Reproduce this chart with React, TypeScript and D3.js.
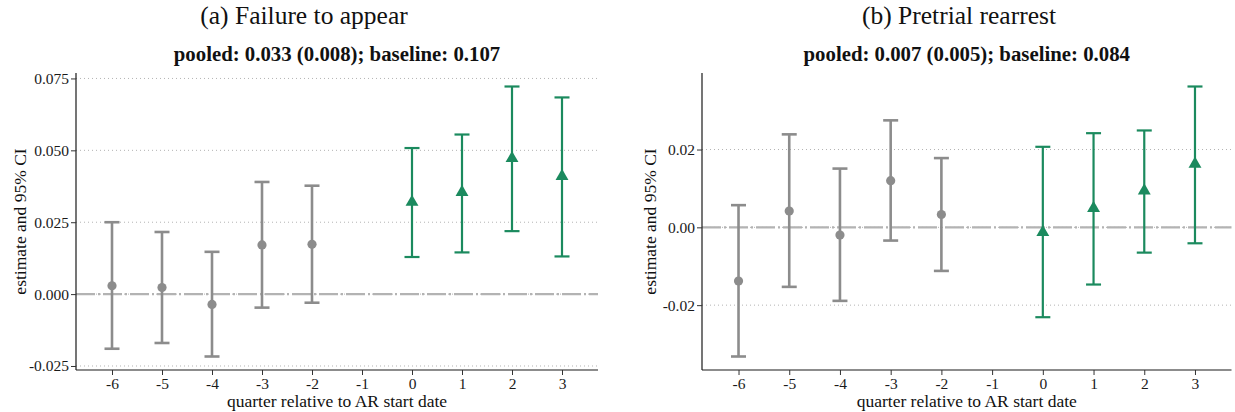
import { useEffect, useRef } from 'react';
import * as d3 from 'd3';

// quarters relative to AR start date
const quarters = [-6, -5, -4, -3, -2, 0, 1, 2, 3];
const xTicks = [-6, -5, -4, -3, -2, -1, 0, 1, 2, 3];

// (a) failure to appear
const ftaEst = [0.0029, 0.0023, -0.0036, 0.0171, 0.0173, 0.032, 0.0354, 0.0472, 0.041];
const ftaLo = [-0.019, -0.017, -0.0217, -0.0047, -0.003, 0.0129, 0.0145, 0.0219, 0.0131];
const ftaHi = [0.025, 0.0216, 0.0147, 0.039, 0.0377, 0.0508, 0.0555, 0.0722, 0.0684];
const ftaTicks = [-0.025, 0, 0.025, 0.05, 0.075];
const ftaTickLabels = ['-0.025', '0.000', '0.025', '0.050', '0.075'];

// (b) pretrial rearrest
const rearEst = [-0.0138, 0.0042, -0.002, 0.012, 0.0033, -0.0013, 0.0049, 0.0094, 0.0163];
const rearLo = [-0.0332, -0.0153, -0.0189, -0.0034, -0.0112, -0.0231, -0.0147, -0.0065, -0.0041];
const rearHi = [0.0057, 0.0239, 0.0151, 0.0275, 0.0178, 0.0207, 0.0242, 0.0249, 0.0362];
const rearTicks = [-0.02, 0, 0.02];
const rearTickLabels = ['-0.02', '0.00', '0.02'];

const FONT = '"Liberation Serif", serif';
const GREY = '#8c8c8c';
const GREEN = '#1b8a5e';

const panels = [
  {
    title: '(a) Failure to appear', titleX: 304,
    subtitle: 'pooled: 0.033 (0.008); baseline: 0.107',
    est: ftaEst, lo: ftaLo, hi: ftaHi, ticks: ftaTicks, tickLabels: ftaTickLabels,
    left: 76, right: 598, ylabX: 20,
  },
  {
    title: '(b) Pretrial rearrest', titleX: 959,
    subtitle: 'pooled: 0.007 (0.005); baseline: 0.084',
    est: rearEst, lo: rearLo, hi: rearHi, ticks: rearTicks, tickLabels: rearTickLabels,
    left: 702, right: 1231.5, ylabX: 650,
  },
];

const App = () => {
  const ref = useRef(null);

  useEffect(() => {
    document.body.style.margin = '0';
    d3.select(ref.current).selectAll('svg').remove();

    const svg = d3.select(ref.current)
      .append('svg')
      .attr('width', 1235)
      .attr('height', 412)
      .style('display', 'block')
      .style('font-family', FONT);

    const top = 73, bottom = 370;

    panels.forEach(p => {
      const g = svg.append('g');

      const x = d3.scaleLinear().domain([-6.72, 3.72]).range([p.left, p.right]);
      const ymin = d3.min(p.lo), ymax = d3.max(p.hi);
      const pad = (ymax - ymin) * 0.05;
      const y = d3.scaleLinear().domain([ymin - pad, ymax + pad]).range([bottom, top]);

      // titles
      g.append('text')
        .attr('x', p.titleX).attr('y', 24)
        .attr('text-anchor', 'middle')
        .style('font-size', '25.5px')
        .attr('fill', '#111')
        .text(p.title);
      g.append('text')
        .attr('x', (p.left + p.right) / 2).attr('y', 61)
        .attr('text-anchor', 'middle')
        .style('font-size', '20.8px')
        .style('font-weight', 'bold')
        .attr('fill', '#111')
        .text(p.subtitle);

      // gridlines
      g.selectAll('.grid')
        .data(p.ticks)
        .join('line')
        .attr('x1', p.left).attr('x2', p.right)
        .attr('y1', d => y(d)).attr('y2', d => y(d))
        .attr('stroke', '#b3b3b3')
        .attr('stroke-width', 1)
        .attr('stroke-dasharray', '1,3');

      // zero reference line
      g.append('line')
        .attr('x1', p.left).attr('x2', p.right)
        .attr('y1', y(0)).attr('y2', y(0))
        .attr('stroke', '#b3b3b3')
        .attr('stroke-width', 2.4)
        .attr('stroke-dasharray', '19,3,2,3');

      // axes
      const yAxis = g.append('g')
        .attr('transform', `translate(${p.left},0)`)
        .call(d3.axisLeft(y).tickValues(p.ticks)
          .tickFormat((d, i) => p.tickLabels[i]).tickSize(5).tickPadding(2).tickSizeOuter(0));
      const xAxis = g.append('g')
        .attr('transform', `translate(0,${bottom})`)
        .call(d3.axisBottom(x).tickValues(xTicks)
          .tickFormat(d => String(d)).tickSize(5).tickPadding(3).tickSizeOuter(0));
      [yAxis, xAxis].forEach(a => {
        a.selectAll('text').style('font-size', '15.5px').style('font-family', FONT).attr('fill', '#1a1a1a');
        a.selectAll('line').attr('stroke', '#333');
        a.select('.domain').attr('stroke', '#1a1a1a').attr('stroke-width', 1.2);
      });
      xAxis.select('.domain').attr('d', `M${p.left},0H${p.right}`);
      yAxis.select('.domain').attr('d', `M0,${top}V${bottom}`);

      // axis titles
      g.append('text')
        .attr('x', (p.left + p.right) / 2).attr('y', 407)
        .attr('text-anchor', 'middle')
        .style('font-size', '17.5px')
        .attr('fill', '#111')
        .text('quarter relative to AR start date');
      g.append('text')
        .attr('transform', `translate(${p.ylabX + 6},${(top + bottom) / 2}) rotate(-90)`)
        .attr('text-anchor', 'middle')
        .style('font-size', '17.5px')
        .attr('fill', '#111')
        .text('estimate and 95% CI');

      // error bars
      const rows = quarters.map((q, i) => ({ q, est: p.est[i], lo: p.lo[i], hi: p.hi[i], post: q >= 0 }));
      const bars = g.selectAll('.bar').data(rows).join('g');
      bars.append('line')
        .attr('x1', d => x(d.q)).attr('x2', d => x(d.q))
        .attr('y1', d => y(d.lo)).attr('y2', d => y(d.hi))
        .attr('stroke', d => d.post ? GREEN : GREY)
        .attr('stroke-width', d => d.post ? 2.2 : 2.6);
      ['lo', 'hi'].forEach(k => {
        bars.append('line')
          .attr('x1', d => x(d.q) - 7.5).attr('x2', d => x(d.q) + 7.5)
          .attr('y1', d => y(d[k])).attr('y2', d => y(d[k]))
          .attr('stroke', d => d.post ? GREEN : GREY)
          .attr('stroke-width', d => d.post ? 2.2 : 2.6);
      });

      // points
      bars.filter(d => !d.post).append('circle')
        .attr('cx', d => x(d.q)).attr('cy', d => y(d.est))
        .attr('r', 4.6)
        .attr('fill', GREY);
      bars.filter(d => d.post).append('path')
        .attr('transform', d => `translate(${x(d.q)},${y(d.est)})`)
        .attr('d', d3.symbol(d3.symbolTriangle, 72)())
        .attr('fill', GREEN);
    });
  }, []);

  return <div ref={ref} />;
};

export default App;
